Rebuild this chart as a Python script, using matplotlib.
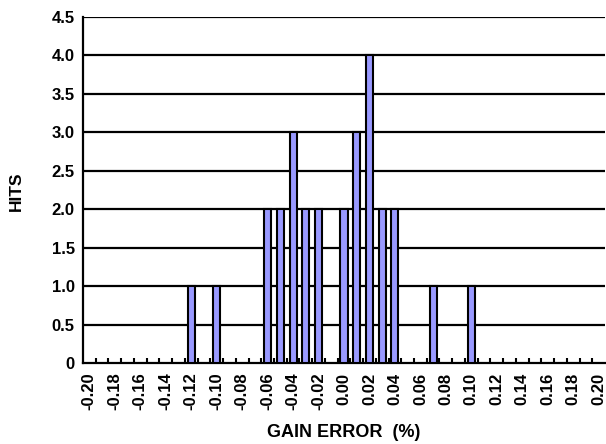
import numpy as np
import matplotlib
matplotlib.use("Agg")
import matplotlib.pyplot as plt
from matplotlib.ticker import FixedLocator

plt.rcParams['font.family'] = ['Liberation Sans', 'DejaVu Sans']

gain_error = [-0.12, -0.10, -0.06, -0.05, -0.04, -0.03, -0.02, 0.00, 0.01, 0.02, 0.03, 0.04, 0.07, 0.10]
hits = [1, 1, 2, 2, 3, 2, 2, 2, 3, 4, 2, 2, 1, 1]
x_tick_values = [round(-0.20 + 0.02 * i, 2) for i in range(21)]
x_tick_labels = [f"{v:.2f}" for v in x_tick_values]
y_tick_values = [0, 0.5, 1.0, 1.5, 2.0, 2.5, 3.0, 3.5, 4.0, 4.5]
y_tick_labels = ["0", "0.5", "1.0", "1.5", "2.0", "2.5", "3.0", "3.5", "4.0", "4.5"]

fig = plt.figure(figsize=(6.06, 4.44), dpi=100)
ax = fig.add_axes([83/606, (444-363)/444, 522/606, 346/444])

ax.bar(gain_error, hits, width=0.0055, color='#9999ff', edgecolor='black', linewidth=1.5, zorder=3)

ax.set_xlim(-0.205, 0.205)
ax.set_ylim(0, 4.5)

for y in y_tick_values[1:]:
    ax.axhline(y, color='black', linewidth=1.6, zorder=1)

ax.set_yticks(y_tick_values)
ax.set_yticklabels(y_tick_labels, fontsize=12, fontweight='bold')
ax.set_xticks(x_tick_values)
ax.set_xticklabels(x_tick_labels, rotation=90, fontsize=12, fontweight='bold')
ax.tick_params(axis='x', which='major', length=0, pad=7)
ax.tick_params(axis='y', which='major', length=0, pad=6)
minor = [round(-0.195 + 0.01 * i, 3) for i in range(40)]
ax.xaxis.set_minor_locator(FixedLocator(minor))
ax.tick_params(axis='x', which='minor', direction='in', length=3.5, width=1.5)

for s in ['top', 'right']:
    ax.spines[s].set_visible(False)
ax.spines['left'].set_linewidth(1.6)
ax.spines['bottom'].set_linewidth(1.6)

fig.text(344/606, 1 - 432/444, 'GAIN ERROR  (%)', fontsize=13, fontweight='bold', ha='center', va='center')
fig.text(16/606, 1 - 191/444, 'HITS', fontsize=12.5, fontweight='bold', ha='center', va='center', rotation=90)

fig.savefig('out.png', dpi=100)
